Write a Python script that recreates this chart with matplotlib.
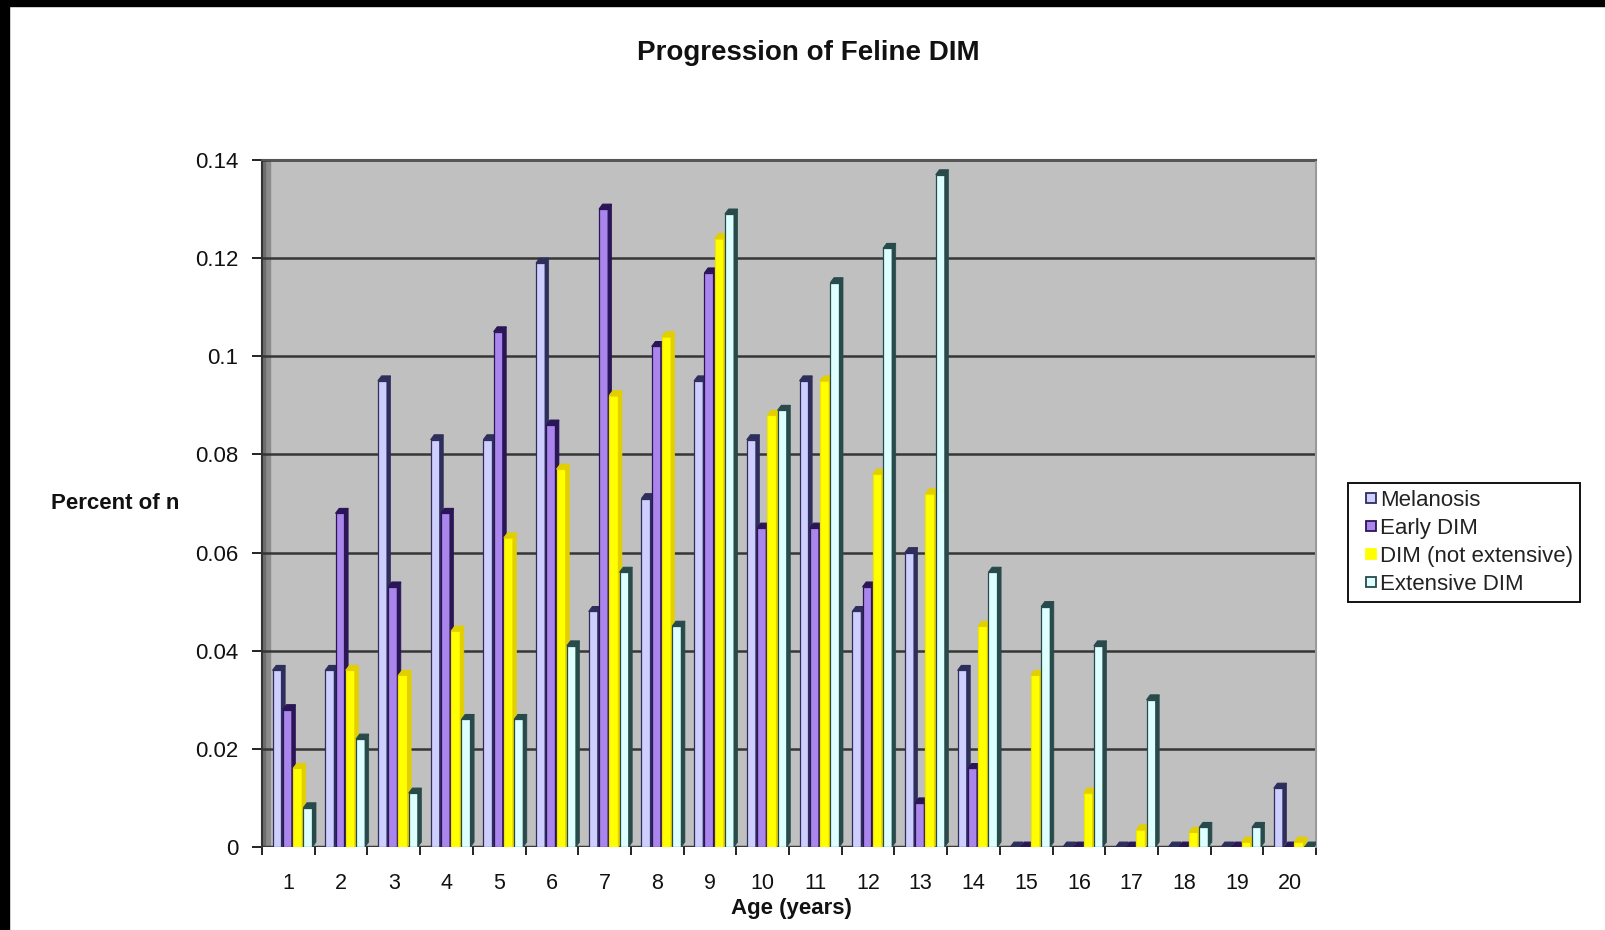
import numpy as np
import matplotlib.pyplot as plt
from matplotlib.lines import Line2D
from matplotlib.patches import Polygon, Rectangle

plt.rcParams['font.family'] = ['Liberation Sans', 'DejaVu Sans']

# fraction of n per age group
ages = list(range(1, 21))
melanosis = [0.036, 0.036, 0.095, 0.083, 0.083, 0.119, 0.048, 0.071, 0.095, 0.083,
             0.095, 0.048, 0.060, 0.036, 0.0, 0.0, 0.0, 0.0, 0.0, 0.012]
early_dim = [0.028, 0.068, 0.053, 0.068, 0.105, 0.086, 0.130, 0.102, 0.117, 0.065,
             0.065, 0.053, 0.009, 0.016, 0.0, 0.0, 0.0, 0.0, 0.0, 0.0]
dim_not_ext = [0.016, 0.036, 0.035, 0.044, 0.063, 0.077, 0.092, 0.104, 0.124, 0.088,
               0.095, 0.076, 0.072, 0.045, 0.035, 0.011, 0.0035, 0.003, 0.001, 0.001]
extensive_dim = [0.008, 0.022, 0.011, 0.026, 0.026, 0.041, 0.056, 0.045, 0.129, 0.089,
                 0.115, 0.122, 0.137, 0.056, 0.049, 0.041, 0.030, 0.004, 0.004, 0.0]

names = ['Melanosis', 'Early DIM', 'DIM (not extensive)', 'Extensive DIM']
series = [melanosis, early_dim, dim_not_ext, extensive_dim]
fronts = ['#CFCFFF', '#A985EC', '#FFFF00', '#DDFFFF']
sides = ['#2E2E5C', '#2A1656', '#E2CF00', '#284A4A']
edges = ['#2E2E5C', '#2A1656', '#F2E400', '#284A4A']

fig = plt.figure(figsize=(16.05, 9.30), dpi=100)
ax = fig.add_axes([262 / 1605, 83 / 930, 1054 / 1605, 687 / 930])
ax.set_facecolor('#C0C0C0')
ax.set_xlim(0.5, 20.5)
ax.set_ylim(0, 0.14)

# shaded side wall
ax.axvspan(0.5, 0.66, color='#8C8C8C', zorder=0)
ax.axvspan(0.5, 0.56, color='#6E6E6E', zorder=0)

ax.set_yticks(np.arange(0, 0.141, 0.02))
ax.set_yticklabels(['0', '0.02', '0.04', '0.06', '0.08', '0.1', '0.12', '0.14'])
ax.yaxis.grid(True, color='#363636', lw=1.8)
ax.set_axisbelow(True)

# 3d-looking columns: front face, dark right side and top cap
x = np.array(ages, dtype=float)
step, w, dx, dy = 0.195, 0.17, 0.07, 0.001
for k, vals in enumerate(series):
    v = np.array(vals)
    left = x - 0.30 + k * step
    z = 3 + k
    ax.bar(left, v, w, align='edge', color=fronts[k], edgecolor=edges[k], lw=0.9, zorder=z)
    for xl, h in zip(left, v):
        ax.add_patch(Polygon([(xl + w, 0), (xl + w + dx, dy), (xl + w + dx, h + dy), (xl + w, h)],
                             closed=True, fc=sides[k], ec=sides[k], lw=0.5, zorder=z))
        ax.add_patch(Polygon([(xl, h), (xl + dx, h + dy), (xl + w + dx, h + dy), (xl + w, h)],
                             closed=True, fc=sides[k], ec=sides[k], lw=0.8, zorder=z))

ax.axhline(0, color='#3A3A3A', lw=2.5, zorder=2)

ax.set_xticks(ages)
ax.set_xticks(np.arange(0.5, 20.6, 1), minor=True)
ax.tick_params(axis='x', which='major', length=0, pad=19, labelsize=15.5, colors='#111111')
ax.tick_params(axis='x', which='minor', length=6, width=1.4, color='#222222', direction='out')
ax.tick_params(axis='y', length=7, width=1.4, color='#222222', pad=10, labelsize=16,
               labelcolor='#111111')

ax.spines['bottom'].set_visible(False)
ax.spines['left'].set_color('#333333')
ax.spines['left'].set_linewidth(1.5)
ax.spines['top'].set_color('#555555')
ax.spines['top'].set_linewidth(1.5)
ax.spines['right'].set_color('#9A9A9A')
ax.spines['right'].set_linewidth(1.5)

ax.set_xlabel('Age (years)', fontsize=16, fontweight='bold', color='#111111')
ax.xaxis.set_label_coords(0.502, -0.074)
ax.set_ylabel('Percent of n', fontsize=16, fontweight='bold', rotation=0,
              ha='center', va='center', color='#111111')
ax.yaxis.set_label_coords(-0.139, 0.5)

fig.text(808 / 1605, 1 - 53 / 930, 'Progression of Feline DIM', fontsize=20,
         fontweight='bold', ha='center', va='center', color='#111111')

handles = [Line2D([], [], ls='', marker='s', markersize=6.6, markerfacecolor=fronts[k],
                  markeredgecolor=(sides[k] if k != 2 else fronts[k]), markeredgewidth=1.3)
           for k in range(4)]
leg = fig.legend(handles, names, loc='upper left', bbox_to_anchor=(1348 / 1605, 1 - 483 / 930),
                 bbox_transform=fig.transFigure, borderaxespad=0, fontsize=16,
                 handlelength=1.44, handletextpad=-0.3, labelspacing=0.32,
                 borderpad=0.3, fancybox=False, framealpha=1)
leg.get_frame().set_edgecolor('#111111')
leg.get_frame().set_linewidth(1.4)
for t in leg.get_texts():
    t.set_color('#222222')

# black edges along the top and left of the image
fig.patches.append(Rectangle((0, 1 - 6 / 930), 1, 6 / 930, transform=fig.transFigure,
                             color='black', zorder=10))
fig.patches.append(Rectangle((0, 0), 9 / 1605, 1, transform=fig.transFigure,
                             color='black', zorder=10))

fig.savefig('out.png', dpi=100)
